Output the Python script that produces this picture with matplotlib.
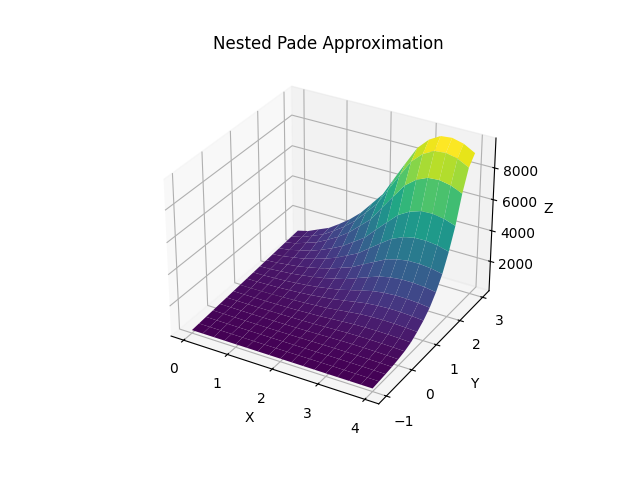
import numpy as np
import matplotlib
matplotlib.use("Agg")
import matplotlib.pyplot as plt

# ── Grid ─────────────────────────────────────────────────────────────
x_vals = [0.0, 0.25, 0.5, 0.75, 1.0, 1.25, 1.5, 1.75, 2.0,
          2.25, 2.5, 2.75, 3.0, 3.25, 3.5, 3.75, 4.0]
y_vals = [-1.0, -0.75, -0.5, -0.25, 0.0, 0.25, 0.5, 0.75, 1.0,
          1.25, 1.5, 1.75, 2.0, 2.25, 2.5, 2.75, 3.0]

# one row per y value, one column per x value (estimated heights)
z_rows = [
    [250, 250, 250, 250, 250, 250, 250, 250, 250, 250, 250, 250, 250, 250, 250, 250, 250],
    [291, 290, 289, 288, 288, 287, 287, 288, 288, 290, 293, 295, 295, 294, 292, 289, 286],
    [334, 331, 329, 326, 326, 326, 327, 329, 331, 338, 343, 349, 350, 349, 345, 338, 330],
    [376, 371, 368, 366, 366, 366, 368, 373, 378, 389, 400, 410, 413, 412, 406, 396, 382],
    [418, 413, 411, 408, 410, 414, 419, 429, 439, 458, 477, 495, 503, 503, 495, 481, 462],
    [459, 454, 454, 453, 459, 467, 477, 495, 513, 544, 575, 604, 618, 621, 612, 593, 568],
    [502, 499, 502, 506, 518, 533, 554, 586, 616, 670, 720, 769, 795, 804, 794, 771, 736],
    [544, 544, 557, 569, 595, 627, 666, 722, 777, 868, 955, 1040, 1086, 1107, 1098, 1067, 1019],
    [586, 592, 616, 638, 682, 732, 794, 879, 965, 1099, 1230, 1357, 1429, 1464, 1457, 1419, 1354],
    [627, 643, 681, 719, 785, 861, 954, 1078, 1204, 1399, 1587, 1772, 1879, 1933, 1929, 1880, 1796],
    [670, 697, 758, 818, 917, 1030, 1168, 1348, 1531, 1810, 2082, 2346, 2502, 2585, 2586, 2527, 2414],
    [712, 756, 847, 935, 1079, 1239, 1434, 1689, 1946, 2335, 2713, 3082, 3302, 3422, 3430, 3356, 3209],
    [753, 822, 953, 1080, 1283, 1509, 1782, 2135, 2492, 3026, 3549, 4057, 4364, 4536, 4554, 4462, 4269],
    [795, 894, 1073, 1248, 1523, 1829, 2195, 2669, 3146, 3860, 4555, 5233, 5645, 5879, 5911, 5796, 5550],
    [837, 974, 1220, 1458, 1829, 2239, 2730, 3362, 3998, 4946, 5870, 6771, 7321, 7637, 7688, 7544, 7228],
    [880, 1046, 1341, 1626, 2069, 2559, 3144, 3897, 4654, 5779, 6878, 7948, 8604, 8982, 9047, 8880, 8511],
    [921, 1099, 1415, 1721, 2195, 2718, 3345, 4149, 4959, 6163, 7338, 8483, 9184, 9589, 9658, 9480, 9085],
]

X, Y = np.meshgrid(x_vals, y_vals)
Z    = np.array(z_rows, dtype=float)

# ── Plot ─────────────────────────────────────────────────────────────
fig = plt.figure(figsize=(6.4, 4.8), dpi=100)
ax  = fig.add_subplot(111, projection="3d")
ax.plot_surface(X, Y, Z, cmap="viridis")

ax.set_xlabel("X")
ax.set_ylabel("Y")
ax.set_zlabel("Z")
ax.set_title("Nested Pade Approximation")

plt.savefig("out.png", dpi=100)
